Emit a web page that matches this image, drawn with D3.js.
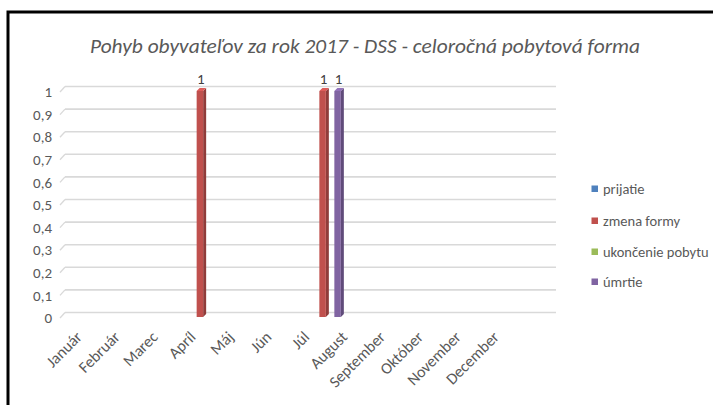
<!DOCTYPE html>
<html><head><meta charset="utf-8">
<script src="https://cdn.jsdelivr.net/npm/d3@7"></script>
<style>
body{margin:0;background:#fff;}
text{font-family:Carlito,"Liberation Sans Narrow","Roboto Condensed",Lato,sans-serif;}
</style></head>
<body><svg id="c" width="713" height="405"></svg>
<script>
const months = ["Január","Február","Marec","Apríl","Máj","Jún","Júl","August","September","Október","November","December"];
const seriesNames = ["prijatie","zmena formy","ukončenie pobytu","úmrtie"];
const seriesColors = ["#4F81BD","#C0504D","#9BBB59","#8064A2"];
const prijatie      = [0,0,0,0,0,0,0,0,0,0,0,0];
const zmenaFormy    = [0,0,0,1,0,0,1,0,0,0,0,0];
const ukoncenie     = [0,0,0,0,0,0,0,0,0,0,0,0];
const umrtie        = [0,0,0,0,0,0,1,0,0,0,0,0];
const yTicks = [0,0.1,0.2,0.3,0.4,0.5,0.6,0.7,0.8,0.9,1];
const yTickLabels = ["0","0,1","0,2","0,3","0,4","0,5","0,6","0,7","0,8","0,9","1"];
const title = "Pohyb obyvateľov za rok 2017 - DSS - celoročná pobytová forma";

const seriesValues = [prijatie, zmenaFormy, ukoncenie, umrtie];
const svg = d3.select("#c");

// frame
svg.append("path").attr("d","M8,405V12H713").attr("fill","none").attr("stroke","#000").attr("stroke-width",3);

// title
svg.append("text").attr("x",365).attr("y",53).attr("text-anchor","middle")
  .attr("font-size",21).attr("font-style","italic").attr("fill","#595959")
  .attr("textLength",550).attr("lengthAdjust","spacingAndGlyphs").text(title);

const y = d3.scaleLinear().domain([0,1]).range([317,91]);
const x0 = d3.scaleBand().domain(months).range([61,551.8]).paddingInner(0).paddingOuter(0);
const x1 = d3.scaleBand().domain(seriesNames).range([0,x0.bandwidth()]).paddingInner(0).paddingOuter(0.727);
const xl = d3.scalePoint().domain(months).range([79,496]);
const dz = 4.5, dxz = 5;

// gridlines with 3D wall edge
const g = svg.append("g");
yTicks.forEach((v,i)=>{
  const yy = y(v);
  g.append("line").attr("x1",60).attr("y1",yy+1).attr("x2",60+dxz).attr("y2",yy-dz)
    .attr("stroke","#d9d9d9").attr("stroke-width",1.3);
  g.append("line").attr("x1",60+dxz).attr("y1",yy-dz).attr("x2",556).attr("y2",yy-dz)
    .attr("stroke","#d9d9d9").attr("stroke-width",1.6);
  svg.append("text").attr("x",52).attr("y",yy+1).attr("dy","0.35em").attr("text-anchor","end")
    .attr("font-size",15).attr("fill","#595959").text(yTickLabels[i]);
});

// bars
const bw = 6.5, d = 3;
seriesValues.forEach((vals,si)=>{
  const col = d3.color(seriesColors[si]);
  const dark = col.darker(0.8), light = col.brighter(0.4);
  vals.forEach((v,mi)=>{
    if (v <= 0) return;
    const x = x0(months[mi]) + x1(seriesNames[si]);
    const yt = y(v), yb = y(0);
    svg.append("polygon").attr("points",[[x+bw,yt],[x+bw+d,yt-d],[x+bw+d,yb-d],[x+bw,yb]].join(" ")).attr("fill",dark);
    svg.append("polygon").attr("points",[[x,yt],[x+d,yt-d],[x+bw+d,yt-d],[x+bw,yt]].join(" ")).attr("fill",light);
    svg.append("rect").attr("x",x).attr("y",yt).attr("width",bw).attr("height",yb-yt).attr("fill",col);
    svg.append("text").attr("x",x+bw/2+1).attr("y",yt-7).attr("text-anchor","middle")
      .attr("font-size",15).attr("fill","#404040").text(v);
  });
});

// x labels
months.forEach(m=>{
  svg.append("text").attr("transform",`translate(${xl(m)},334) rotate(-45)`)
    .attr("text-anchor","end").attr("dy","0.35em").attr("font-size",16).attr("fill","#595959").text(m);
});

// legend
const ly = [189,221,252,282];
seriesNames.forEach((s,i)=>{
  svg.append("rect").attr("x",591.5).attr("y",ly[i]-3.5).attr("width",6.5).attr("height",6.5).attr("fill",seriesColors[i]);
  svg.append("text").attr("x",603).attr("y",ly[i]).attr("dy","0.35em").attr("font-size",14.5).attr("fill","#595959").text(s);
});
</script></body></html>
